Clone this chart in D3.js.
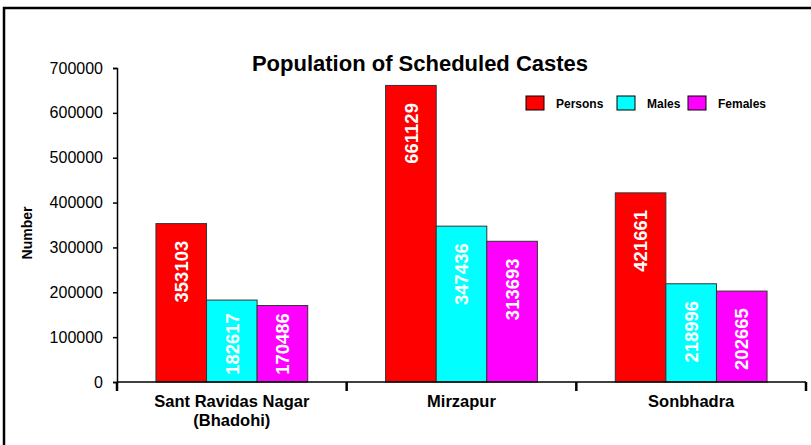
<!DOCTYPE html>
<html lang="en">
<head>
  <meta charset="UTF-8">
  <title>Population of Scheduled Castes</title>
  <style>
    body { margin: 0; background: #fff; }
    svg { display: block; font-family: Arial, "Liberation Sans", sans-serif; }
  </style>
</head>
<body>
  <div id="chart"></div>
  <script src="https://d3js.org/d3.v7.min.js"></script>
  <script>
    const districts = ['Sant Ravidas Nagar (Bhadohi)', 'Mirzapur', 'Sonbhadra']
    const seriesNames = ['Persons', 'Males', 'Females']
    const persons = [353103, 661129, 421661]
    const males = [182617, 347436, 218996]
    const females = [170486, 313693, 202665]
    const yTicks = [0, 100000, 200000, 300000, 400000, 500000, 600000, 700000]
    const colors = ['#ff0000', '#00ffff', '#ff00ff']

    const width = 811, height = 445
    const margin = {top: 68, right: 5, bottom: 63, left: 117}

    const svg = d3.select('#chart')
      .append('svg')
        .attr('width', width)
        .attr('height', height)

    // outer frame (right and bottom edges fall off the page)
    svg.append('rect')
      .attr('x', 4).attr('y', 8)
      .attr('width', 830).attr('height', 460)
      .attr('fill', 'none')
      .attr('stroke', '#000')
      .attr('stroke-width', 2.5)

    const yscale = d3.scaleLinear()
      .domain([0, 700000])
      .range([height - margin.bottom, margin.top])

    const xscale = d3.scaleBand()
      .domain(districts)
      .range([margin.left, width - margin.right])

    const inner = d3.scaleBand()
      .domain(seriesNames)
      .range([0, xscale.bandwidth()])
      .paddingOuter(0.77)

    const rows = districts.map((d, i) => ({
      district: d,
      values: [persons[i], males[i], females[i]]
    }))

    // bars
    const groups = svg.append('g')
      .selectAll('g')
      .data(rows)
      .enter()
      .append('g')
        .attr('transform', d => `translate(${xscale(d.district)},0)`)

    groups.selectAll('rect')
      .data(d => d.values.map((v, j) => ({name: seriesNames[j], value: v, c: colors[j]})))
      .enter()
      .append('rect')
        .attr('x', d => inner(d.name))
        .attr('y', d => yscale(d.value))
        .attr('width', inner.bandwidth())
        .attr('height', d => yscale(0) - yscale(d.value))
        .attr('fill', d => d.c)
        .attr('stroke', '#333')
        .attr('stroke-width', 1)

    // value labels, white and rotated; kept clear of the baseline
    const labelY = v => Math.min(yscale(v) + 48, yscale(0) - 38)
    groups.selectAll('text')
      .data(d => d.values.map((v, j) => ({name: seriesNames[j], value: v})))
      .enter()
      .append('text')
        .attr('transform', d => `translate(${inner(d.name) + inner.bandwidth() / 2},${labelY(d.value)}) rotate(-90)`)
        .attr('text-anchor', 'middle')
        .attr('dy', '0.36em')
        .attr('fill', '#fff')
        .style('font-size', '18.5px')
        .style('font-weight', 'bold')
        .text(d => d.value)

    // y axis
    const leftAxis = d3.axisLeft(yscale)
      .tickValues(yTicks)
      .tickFormat(d3.format('d'))
      .tickSize(4)
      .tickPadding(10)
    const yg = svg.append('g')
      .attr('transform', `translate(${margin.left},0)`)
      .call(leftAxis)
    yg.select('.domain').attr('stroke-width', 1.5)
    yg.selectAll('.tick line').attr('stroke-width', 1.5)
    yg.selectAll('.tick text')
      .attr('font-family', null)
      .style('font-size', '16px')
      .attr('fill', '#000')

    // x axis
    const xg = svg.append('g')
      .attr('transform', `translate(0,${yscale(0)})`)
    xg.append('line')
      .attr('x1', margin.left).attr('x2', width - margin.right)
      .attr('stroke', '#000').attr('stroke-width', 1.5)
    const xTickPos = districts.map(d => xscale(d)).concat([xscale(districts[districts.length - 1]) + xscale.bandwidth()])
    xg.selectAll('line.t')
      .data(xTickPos)
      .enter()
      .append('line')
        .attr('class', 't')
        .attr('x1', d => d).attr('x2', d => d)
        .attr('y1', 0).attr('y2', 9)
        .attr('stroke', '#000').attr('stroke-width', 2.5)

    const catLabels = xg.selectAll('text')
      .data(districts)
      .enter()
      .append('text')
        .attr('x', d => xscale(d) + xscale.bandwidth() / 2)
        .attr('y', 25)
        .attr('text-anchor', 'middle')
        .style('font-size', '16.5px')
        .style('font-weight', 'bold')
    catLabels.each(function(d) {
      const parts = d.startsWith('Sant') ? ['Sant Ravidas Nagar', '(Bhadohi)'] : [d]
      d3.select(this).selectAll('tspan')
        .data(parts)
        .enter()
        .append('tspan')
          .attr('x', xscale(d) + xscale.bandwidth() / 2)
          .attr('dy', (p, i) => i === 0 ? 0 : 19)
          .text(p => p)
    })

    // y axis title
    svg.append('text')
      .attr('transform', `translate(32,${233}) rotate(-90)`)
      .attr('text-anchor', 'middle')
      .style('font-size', '14px')
      .style('font-weight', 'bold')
      .text('Number')

    // chart title
    svg.append('text')
      .attr('x', 420)
      .attr('y', 71)
      .attr('text-anchor', 'middle')
      .style('font-size', '22px')
      .style('font-weight', 'bold')
      .text('Population of Scheduled Castes')

    // legend
    const legendX = [526, 617, 688]
    const legend = svg.append('g')
      .selectAll('g')
      .data(seriesNames)
      .enter()
      .append('g')
        .attr('transform', (d, i) => `translate(${legendX[i]},96)`)
    legend.append('rect')
      .attr('width', 18).attr('height', 14)
      .attr('fill', (d, i) => colors[i])
      .attr('stroke', '#000')
      .attr('stroke-width', 1)
    legend.append('text')
      .attr('x', 30)
      .attr('y', 11.5)
      .style('font-size', '12px')
      .style('font-weight', 'bold')
      .text(d => d)
  </script>
</body>
</html>
